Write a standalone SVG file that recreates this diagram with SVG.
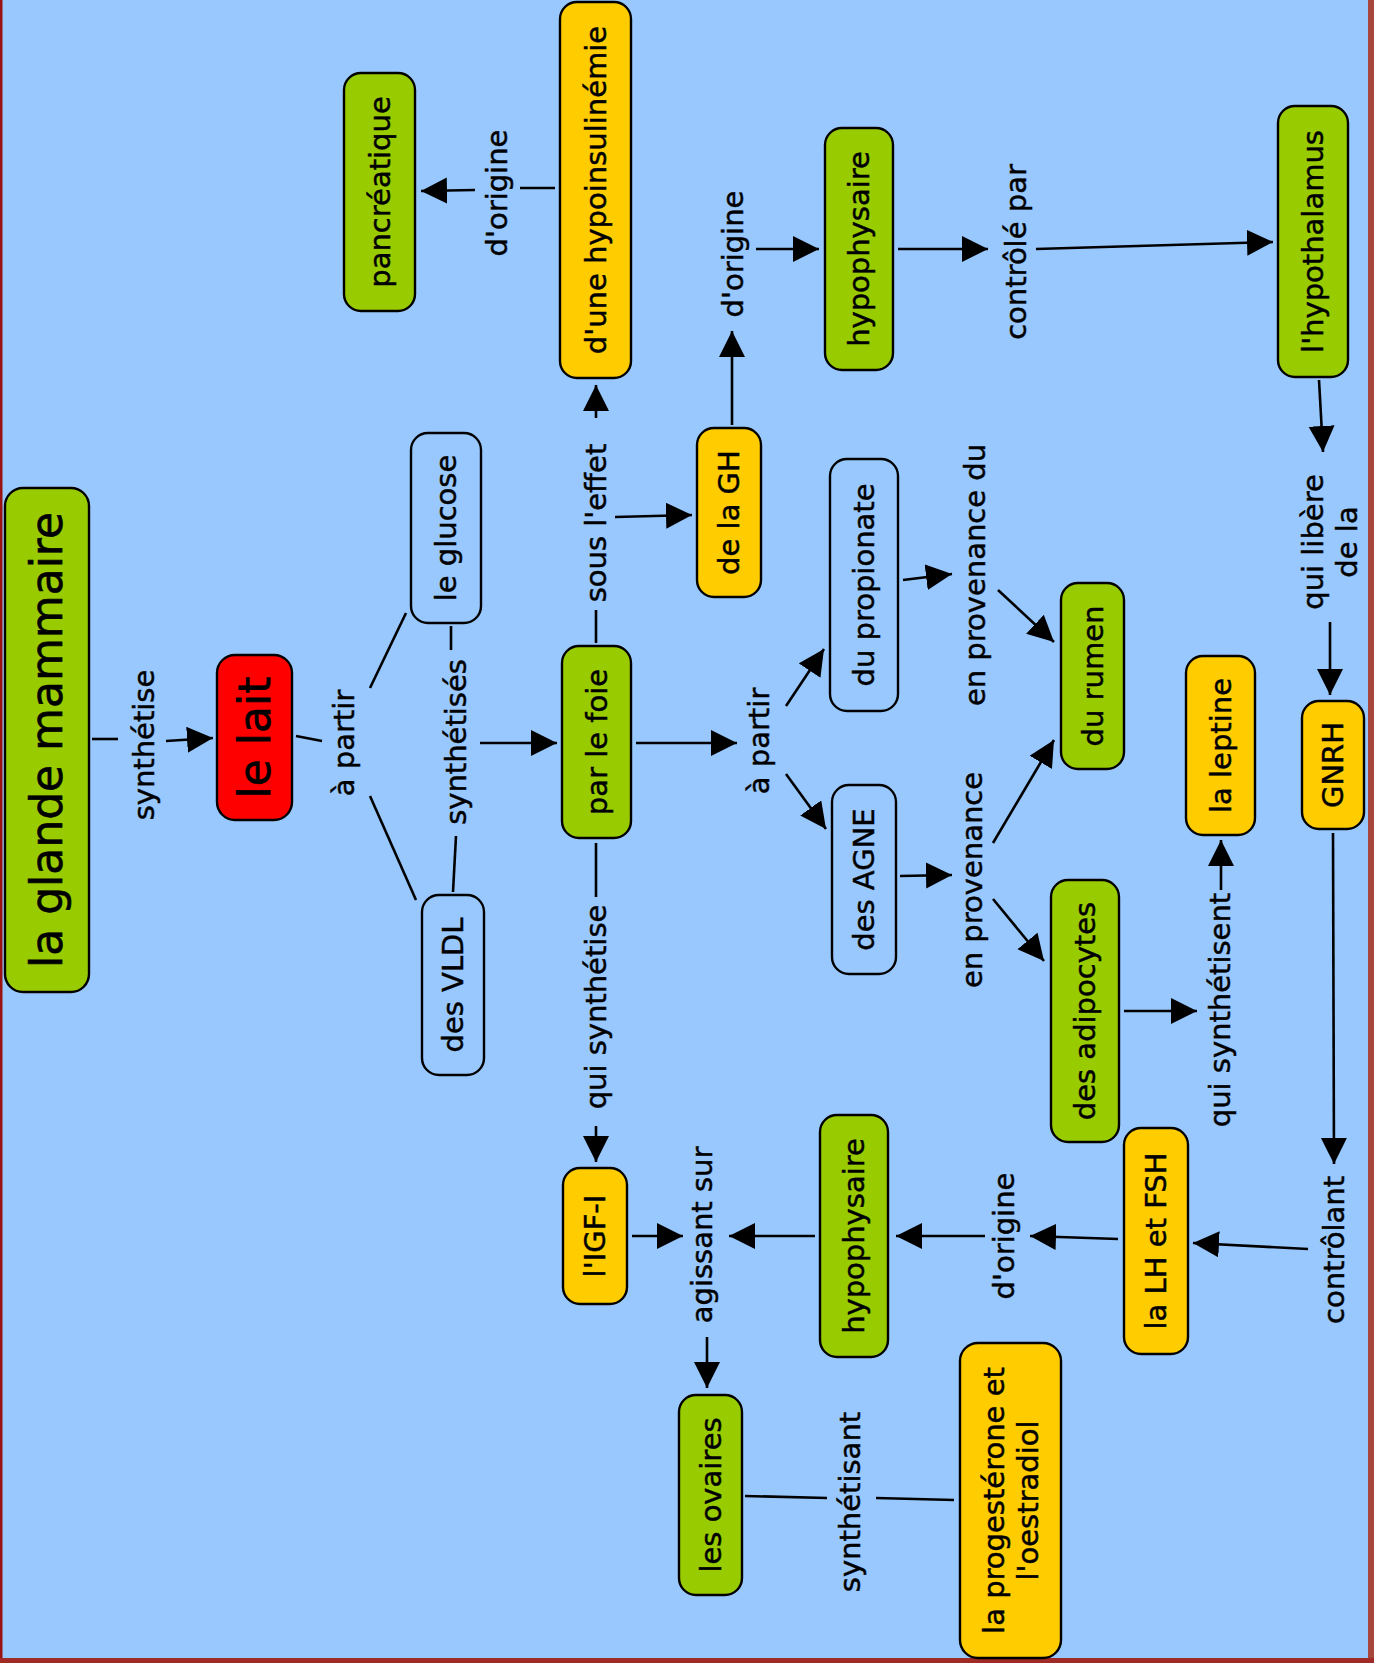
<svg xmlns="http://www.w3.org/2000/svg" width="1374" height="1663" viewBox="0 0 1374 1663">
<style>
.bg{fill:#98c8fd}
.n{stroke:#000;stroke-width:2.4}
.g{fill:#99cc00}
.o{fill:#ffcc00}
.r{fill:#ff0000}
.b{fill:#98c8fd}
text{font-family:"DejaVu Sans","Liberation Sans",sans-serif;font-size:29px;fill:#000;stroke:#000;stroke-width:0.45;text-anchor:middle}
.big{font-size:44px;stroke-width:0.6}
.c line{stroke:#000;stroke-width:2.6;fill:none}
.c line.a{marker-end:url(#arr)}
</style>
<defs>
<marker id="arr" markerUnits="userSpaceOnUse" markerWidth="27" markerHeight="27" refX="26" refY="13" orient="auto">
<path d="M0,0 L26,13 L0,26 Z" fill="#000"/>
</marker>
</defs>
<rect class="bg" x="0" y="0" width="1374" height="1663"/>
<rect x="0" y="0" width="2.5" height="1663" fill="#9a1212"/>
<rect x="1368" y="0" width="6" height="1663" fill="#a6463d"/>
<rect x="0" y="1658" width="1374" height="5" fill="#a02a26"/>

<g class="c" id="connectors">
<line x1="92" y1="739" x2="118" y2="739"/>
<line class="a" x1="166" y1="741" x2="213" y2="738"/>
<line x1="296" y1="736" x2="322" y2="741"/>
<line x1="370" y1="688" x2="406" y2="613"/>
<line x1="370" y1="796" x2="416" y2="900"/>
<line x1="451" y1="626" x2="451" y2="650"/>
<line x1="453" y1="892" x2="456" y2="836"/>
<line class="a" x1="480" y1="743" x2="557" y2="743"/>
<line x1="596" y1="643" x2="596" y2="610"/>
<line class="a" x1="596" y1="418" x2="596" y2="385"/>
<line class="a" x1="615" y1="517" x2="692" y2="515"/>
<line x1="555" y1="188" x2="520" y2="188"/>
<line class="a" x1="475" y1="190" x2="421" y2="191"/>
<line x1="596" y1="843" x2="596" y2="897"/>
<line class="a" x1="596" y1="1126" x2="596" y2="1162"/>
<line class="a" x1="732" y1="425" x2="732" y2="331"/>
<line class="a" x1="756" y1="249" x2="819" y2="249"/>
<line class="a" x1="898" y1="249" x2="988" y2="249"/>
<line class="a" x1="1036" y1="249" x2="1273" y2="242"/>
<line class="a" x1="1319" y1="380" x2="1323" y2="452"/>
<line class="a" x1="1330" y1="622" x2="1330" y2="695"/>
<line class="a" x1="1333" y1="833" x2="1334" y2="1164"/>
<line class="a" x1="1308" y1="1249" x2="1193" y2="1243"/>
<line class="a" x1="1118" y1="1239" x2="1030" y2="1236"/>
<line class="a" x1="985" y1="1236" x2="896" y2="1236"/>
<line class="a" x1="815" y1="1236" x2="729" y2="1236"/>
<line class="a" x1="632" y1="1236" x2="683" y2="1236"/>
<line class="a" x1="707" y1="1337" x2="707" y2="1388"/>
<line class="a" x1="636" y1="743" x2="737" y2="743"/>
<line class="a" x1="786" y1="706" x2="824" y2="649"/>
<line class="a" x1="786" y1="774" x2="826" y2="829"/>
<line class="a" x1="903" y1="580" x2="952" y2="574"/>
<line class="a" x1="998" y1="590" x2="1054" y2="642"/>
<line class="a" x1="900" y1="876" x2="952" y2="875"/>
<line class="a" x1="993" y1="843" x2="1054" y2="740"/>
<line class="a" x1="993" y1="899" x2="1044" y2="961"/>
<line class="a" x1="1124" y1="1011" x2="1197" y2="1011"/>
<line class="a" x1="1221" y1="890" x2="1221" y2="840"/>
<line x1="745" y1="1496" x2="827" y2="1498"/>
<line x1="876" y1="1498" x2="954" y2="1500"/>
</g>

<g id="labels">
<text transform="translate(144,745) rotate(-90)" y="10">synthétise</text>
<text transform="translate(344,743) rotate(-90)" y="10">à partir</text>
<text transform="translate(456,742) rotate(-90)" y="10">synthétisés</text>
<text transform="translate(596,523) rotate(-90)" y="10">sous l'effet</text>
<text transform="translate(596,1007) rotate(-90)" y="10">qui synthétise</text>
<text transform="translate(497,193) rotate(-90)" y="10">d'origine</text>
<text transform="translate(733,254) rotate(-90)" y="10">d'origine</text>
<text transform="translate(1016,252) rotate(-90)" y="10">contrôlé par</text>
<text transform="translate(1330,542) rotate(-90)"><tspan x="0" y="-7">qui libère</tspan><tspan x="0" y="27">de la</tspan></text>
<text transform="translate(759,741) rotate(-90)" y="10">à partir</text>
<text transform="translate(975,575) rotate(-90)" y="10">en provenance du</text>
<text transform="translate(972,880) rotate(-90)" y="10">en provenance</text>
<text transform="translate(1220,1010) rotate(-90)" y="10">qui synthétisent</text>
<text transform="translate(1334,1250) rotate(-90)" y="10">contrôlant</text>
<text transform="translate(1004,1236) rotate(-90)" y="10">d'origine</text>
<text transform="translate(702,1235) rotate(-90)" y="10">agissant sur</text>
<text transform="translate(850,1502) rotate(-90)" y="10">synthétisant</text>
</g>

<g id="n-glande"><rect class="n g" x="5" y="488" width="84" height="504" rx="18"/><text class="big" transform="translate(47,740) rotate(-90)" y="15">la glande mammaire</text></g>
<g id="n-lait"><rect class="n r" x="217" y="655" width="75" height="165" rx="18"/><text class="big" transform="translate(254.5,737.5) rotate(-90)" y="15">le lait</text></g>
<g id="n-glucose"><rect class="n b" x="411" y="433" width="70" height="190" rx="17"/><text transform="translate(446,528) rotate(-90)" y="10">le glucose</text></g>
<g id="n-vldl"><rect class="n b" x="422" y="895" width="62" height="180" rx="17"/><text transform="translate(453,985) rotate(-90)" y="10">des VLDL</text></g>
<g id="n-foie"><rect class="n g" x="562" y="646" width="69" height="192" rx="17"/><text transform="translate(596.5,742) rotate(-90)" y="10">par le foie</text></g>
<g id="n-hypoinsulinemie"><rect class="n o" x="560" y="2" width="71" height="376" rx="17"/><text transform="translate(595.5,190) rotate(-90)" y="10">d'une hypoinsulinémie</text></g>
<g id="n-pancreatique"><rect class="n g" x="344" y="73" width="71" height="238" rx="17"/><text transform="translate(379.5,192) rotate(-90)" y="10">pancréatique</text></g>
<g id="n-gh"><rect class="n o" x="697" y="428" width="64" height="169" rx="17"/><text transform="translate(729,512.5) rotate(-90)" y="10">de la GH</text></g>
<g id="n-hypophysaire1"><rect class="n g" x="825" y="128" width="68" height="242" rx="17"/><text transform="translate(859,249) rotate(-90)" y="10">hypophysaire</text></g>
<g id="n-hypothalamus"><rect class="n g" x="1278" y="106" width="70" height="271" rx="17"/><text transform="translate(1313,241.5) rotate(-90)" y="10">l'hypothalamus</text></g>
<g id="n-propionate"><rect class="n b" x="830" y="459" width="68" height="252" rx="17"/><text transform="translate(864,585) rotate(-90)" y="10">du propionate</text></g>
<g id="n-agne"><rect class="n b" x="832" y="785" width="64" height="189" rx="17"/><text transform="translate(864,879.5) rotate(-90)" y="10">des AGNE</text></g>
<g id="n-rumen"><rect class="n g" x="1061" y="583" width="63" height="186" rx="17"/><text transform="translate(1092.5,676) rotate(-90)" y="10">du rumen</text></g>
<g id="n-adipocytes"><rect class="n g" x="1051" y="880" width="68" height="262" rx="17"/><text transform="translate(1085,1011) rotate(-90)" y="10">des adipocytes</text></g>
<g id="n-leptine"><rect class="n o" x="1186" y="656" width="69" height="179" rx="17"/><text transform="translate(1220.5,745.5) rotate(-90)" y="10">la leptine</text></g>
<g id="n-gnrh"><rect class="n o" x="1302" y="701" width="62" height="128" rx="17"/><text transform="translate(1333,765) rotate(-90)" y="10">GNRH</text></g>
<g id="n-lhfsh"><rect class="n o" x="1124" y="1128" width="64" height="226" rx="17"/><text transform="translate(1156,1241) rotate(-90)" y="10">la LH et FSH</text></g>
<g id="n-hypophysaire2"><rect class="n g" x="820" y="1115" width="68" height="242" rx="17"/><text transform="translate(854,1236) rotate(-90)" y="10">hypophysaire</text></g>
<g id="n-igf"><rect class="n o" x="563" y="1168" width="64" height="136" rx="17"/><text transform="translate(595,1236) rotate(-90)" y="10">l'IGF-I</text></g>
<g id="n-ovaires"><rect class="n g" x="679" y="1395" width="63" height="200" rx="17"/><text transform="translate(710.5,1495) rotate(-90)" y="10">les ovaires</text></g>
<g id="n-progesterone"><rect class="n o" x="960" y="1343" width="101" height="315" rx="18"/><text transform="translate(1010.5,1500.5) rotate(-90)"><tspan x="0" y="-7">la progestérone et</tspan><tspan x="0" y="27">l'oestradiol</tspan></text></g>
</svg>
